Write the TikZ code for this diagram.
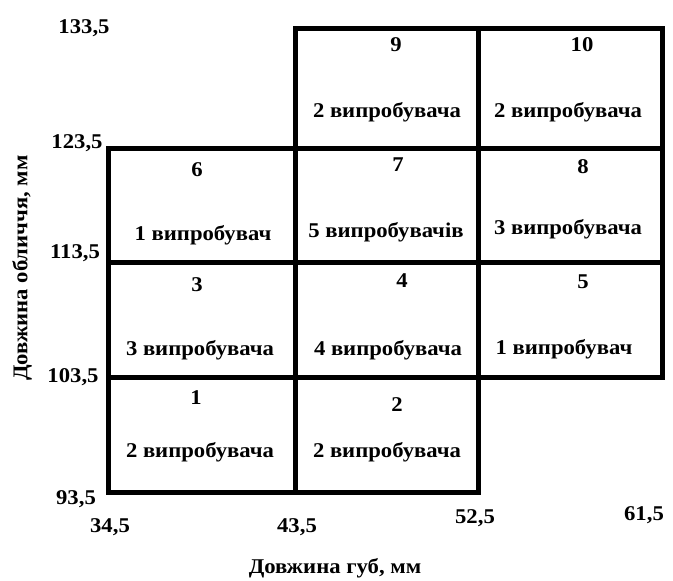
\documentclass[tikz,border=0pt]{standalone}
\usepackage{fontspec}
\setmainfont{Liberation Serif}[FakeStretch=1.08]
\begin{document}
\begin{tikzpicture}[x=1pt,y=-1pt,
  every node/.style={font=\bfseries\fontsize{21}{24}\selectfont, inner sep=0pt},
  cell/.style={draw=black, line width=5pt, minimum height=#1},
  c1w/.style={minimum width=187pt},
  c2w/.style={minimum width=183pt},
  c3w/.style={minimum width=184pt}]
\useasboundingbox (0,0) rectangle (673,581);
% cells
\node[cell=120pt,c2w] (c9)  at (386.5,88) {};
\node[cell=120pt,c3w] (c10) at (570,88) {};
\node[cell=114pt,c1w] (c6)  at (201.5,205) {};
\node[cell=114pt,c2w] (c7)  at (386.5,205) {};
\node[cell=114pt,c3w] (c8)  at (570,205) {};
\node[cell=115pt,c1w] (c3)  at (201.5,319.5) {};
\node[cell=115pt,c2w] (c4)  at (386.5,319.5) {};
\node[cell=115pt,c3w] (c5)  at (570,319.5) {};
\node[cell=115pt,c1w] (c1)  at (201.5,434.5) {};
\node[cell=115pt,c2w] (c2)  at (386.5,434.5) {};
% numbers
\node (n9)  at (396,45) {9};
\node (n10) at (582,45) {10};
\node (n6)  at (197,170) {6};
\node (n7)  at (398,165) {7};
\node (n8)  at (583,167) {8};
\node (n3)  at (197,285) {3};
\node (n4)  at (402,281) {4};
\node (n5)  at (583,282) {5};
\node (n1)  at (196,398) {1};
\node (n2)  at (397,405) {2};
% labels
\node (l9)  at (387,112) {2 випробувача};
\node (l10) at (568,112) {2 випробувача};
\node (l6)  at (203,235) {1 випробувач};
\node (l7)  at (386,232) {5 випробувачів};
\node (l8)  at (568,229) {3 випробувача};
\node (l3)  at (200,350) {3 випробувача};
\node (l4)  at (388,350) {4 випробувача};
\node (l5)  at (564,349) {1 випробувач};
\node (l1)  at (200,452) {2 випробувача};
\node (l2)  at (387,452) {2 випробувача};
% ticks
\node (t1335) at (84,28) {133,5};
\node (t1235) at (77,143) {123,5};
\node (t1135) at (75,253) {113,5};
\node (t1035) at (73,377) {103,5};
\node (t935)  at (76,499) {93,5};
\node (t345)  at (110,527) {34,5};
\node (t435)  at (297,527) {43,5};
\node (t525)  at (475,518) {52,5};
\node (t615)  at (644,515) {61,5};
% axis labels
\node[rotate=90] (ylab) at (22,268) {Довжина обличчя, мм};
\node (xlab) at (335,568) {Довжина губ, мм};
\end{tikzpicture}
\end{document}
